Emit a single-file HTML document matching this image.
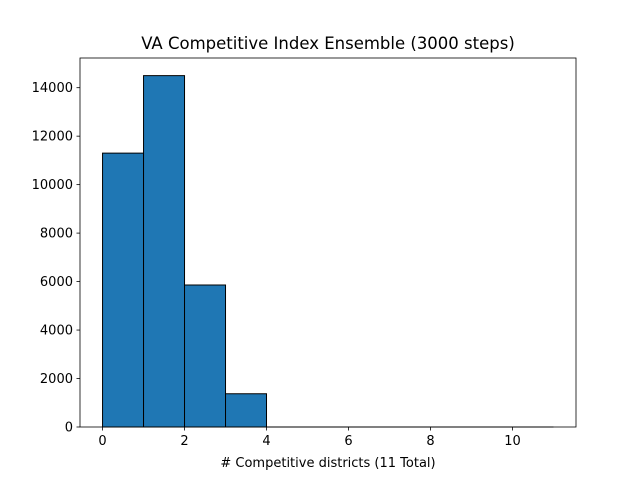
<!DOCTYPE html>
<html><head><meta charset="utf-8"><style>body{margin:0;background:#fff}svg{display:block;font-family:"DejaVu Sans","Liberation Sans",sans-serif}</style></head>
<body>
<svg id="chart" width="640" height="480">
<rect width="640" height="480" fill="#fff"/>
<text x="328" y="49" font-size="16.5" text-anchor="middle">VA Competitive Index Ensemble (3000 steps)</text>
<g id="bars"></g>
<g id="xticks"></g>
<g id="yticks"></g>
<rect x="80" y="58" width="496" height="369" fill="none" stroke="#000" stroke-width="0.8"/>
<text x="328" y="467" font-size="13" text-anchor="middle"># Competitive districts (11 Total)</text>
</svg>
<script>
const binEdges = [0,1,2,3,4,5,6,7,8,9,10,11];
const counts = [11300,14500,5860,1370,0,0,0,0,0,0,0];
const xTickVals = [0,2,4,6,8,10];
const yTickVals = [0,2000,4000,6000,8000,10000,12000,14000];
const L=80,R=576,T=58,B=427;
const xmin=-0.55,xmax=11.55,ymin=0,ymax=15225;
const sx=v=>L+(v-xmin)/(xmax-xmin)*(R-L);
const sy=v=>B-(v-ymin)/(ymax-ymin)*(B-T);
const NS="http://www.w3.org/2000/svg";
const bars=document.getElementById('bars');
counts.forEach((c,i)=>{
  const r=document.createElementNS(NS,'path');
  const x0=sx(binEdges[i]),x1=sx(binEdges[i+1]),y0=sy(0),y1=sy(c);
  r.setAttribute('d','M'+x0+','+y0+'L'+x0+','+y1+'L'+x1+','+y1+'L'+x1+','+y0+'Z');
  r.setAttribute('fill','#1f77b4');r.setAttribute('stroke','#000');r.setAttribute('stroke-width','1');
  
  
  bars.appendChild(r);
});
const xt=document.getElementById('xticks');
xTickVals.forEach(v=>{
  const x=sx(v);
  const l=document.createElementNS(NS,'line');
  l.setAttribute('x1',x);l.setAttribute('x2',x);l.setAttribute('y1',B);l.setAttribute('y2',B+3.5);l.setAttribute('stroke','#000');l.setAttribute('stroke-width','0.8');
  
  
  xt.appendChild(l);
  const t=document.createElementNS(NS,'text');
  t.setAttribute('x',x);t.setAttribute('y',B+18);t.setAttribute('font-size','13');t.setAttribute('text-anchor','middle');t.textContent=v;
  
  
  xt.appendChild(t);
});
const yt=document.getElementById('yticks');
yTickVals.forEach(v=>{
  const y=sy(v);
  const l=document.createElementNS(NS,'line');
  l.setAttribute('x1',L-3.5);l.setAttribute('x2',L);l.setAttribute('y1',y);l.setAttribute('y2',y);l.setAttribute('stroke','#000');l.setAttribute('stroke-width','0.8');
  
  
  yt.appendChild(l);
  const t=document.createElementNS(NS,'text');
  t.setAttribute('x',L-7);t.setAttribute('y',y+4.5);t.setAttribute('font-size','13');t.setAttribute('text-anchor','end');t.textContent=v;
  
  
  yt.appendChild(t);
});
</script>
</body></html>
